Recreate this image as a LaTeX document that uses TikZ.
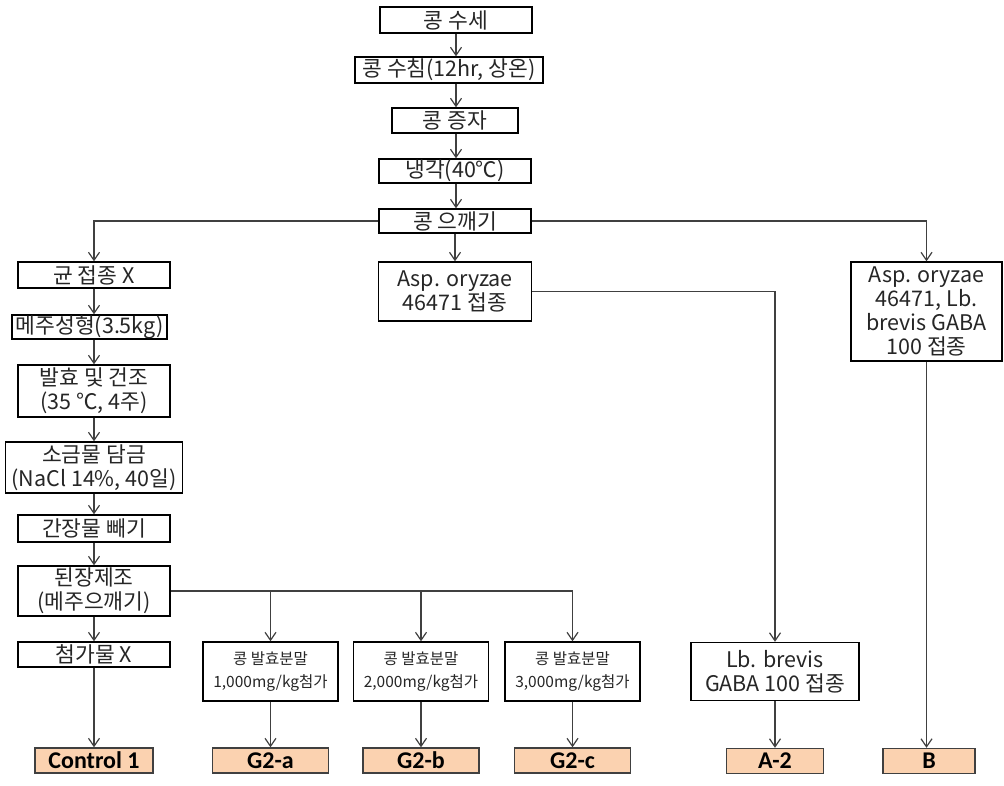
\documentclass[tikz,border=0pt]{standalone}
\usepackage{fontspec}
\setmainfont{Noto Sans CJK KR}
\newfontfamily\labelfont{Carlito}
\usetikzlibrary{positioning,arrows.meta}
\definecolor{peach}{RGB}{251,210,176}
\definecolor{linegray}{RGB}{64,64,64}

\begin{document}
\begin{tikzpicture}[-{Straight Barb[length=8pt,width=11pt]}, on grid,
line width=1.2pt, draw=linegray,
step box/.style ={rectangle, draw=black, line width=1.4pt, fill=white,
inner sep=0pt, align=center, text=black!85,
font=\fontsize{21.5}{24}\selectfont},
add box/.style ={step box, minimum width=135pt, minimum height=59pt,
font=\fontsize{15.5}{23}\selectfont},
group/.style ={rectangle, draw=black!75, line width=1.4pt, fill=peach,
inner sep=0pt, minimum height=25pt, text=black,
font=\labelfont\bfseries\fontsize{24}{24}\selectfont}]
\useasboundingbox (0,0) rectangle (1004pt,-785pt);
% main column
\node[step box, minimum width=152pt, minimum height=26pt] (wash) at (456pt,-20pt) {콩 수세};
\node[step box, minimum width=188pt, minimum height=26pt] (soak) [below left = 50pt and 7pt of wash] {콩 수침(12hr, 상온)};
\node[step box, minimum width=126pt, minimum height=25pt] (steam) [below right = 50.5pt and 6pt of soak] {콩 증자};
\node[step box, minimum width=152pt, minimum height=24pt] (cool) [below = 50.5pt of steam] {냉각(40℃)};
\node[step box, minimum width=152pt, minimum height=24pt] (mash) [below = 50pt of cool] {콩 으깨기};
\node[step box, minimum width=153pt, minimum height=59pt] (asp) [below = 70.5pt of mash] {Asp. oryzae\\46471 접종};
% left column
\node[step box, minimum width=152pt, minimum height=26pt] (noinoc) at (94pt,-275pt) {균 접종 X};
\node[step box, minimum width=155pt, minimum height=24pt] (meju) [below left = 52pt and 4.5pt of noinoc] {메주성형(3.5kg)};
\node[step box, minimum width=152pt, minimum height=52pt] (ferm) [below right = 64pt and 4.5pt of meju] {발효 및 건조\\(35 ℃, 4주)};
\node[step box, minimum width=177pt, minimum height=51pt] (brine) [below = 76.5pt of ferm] {소금물 담금\\(NaCl 14\%, 40일)};
\node[step box, minimum width=152pt, minimum height=27pt] (drain) [below = 61pt of brine] {간장물 빼기};
\node[step box, minimum width=152pt, minimum height=50pt] (doen) [below = 62.5pt of drain] {된장제조\\(메주으깨기)};
\node[step box, minimum width=152pt, minimum height=25pt] (noadd) [below = 63.5pt of doen] {첨가물 X};
\node[group, minimum width=118pt] (ctrl) [below = 106pt of noadd] {Control 1};
% powder additions
\node[add box] (pow1) [below right = 17pt and 176.5pt of noadd] {콩 발효분말\\1,000mg/kg첨가};
\node[add box] (pow2) [right = 150.5pt of pow1] {콩 발효분말\\2,000mg/kg첨가};
\node[add box] (pow3) [right = 151.5pt of pow2] {콩 발효분말\\3,000mg/kg첨가};
\node[group, minimum width=116pt] (g2a) [below = 89pt of pow1] {G2-a};
\node[group, minimum width=116pt] (g2b) [below = 89pt of pow2] {G2-b};
\node[group, minimum width=116pt] (g2c) [below = 89pt of pow3] {G2-c};
% right columns
\node[step box, minimum width=168pt, minimum height=58pt] (lb) [right = 202.5pt of pow3] {Lb. brevis\\GABA 100 접종};
\node[group, minimum width=97pt] (a2) [below = 89.5pt of lb] {A-2};
\node[step box, minimum width=151pt, minimum height=99pt] (both) at (926.5pt,-311.5pt) {Asp. oryzae\\46471, Lb.\\brevis GABA\\100 접종};
\node[group, minimum width=92pt] (bgrp) [right = 154pt of a2] {B};

\path (wash) edge (wash |- soak.north);
\path (wash |- soak.south) edge (wash |- steam.north);
\path (wash |- steam.south) edge (wash |- cool.north);
\path (wash |- cool.south) edge (wash |- mash.north);
\path (mash) edge (asp);
\draw (mash.west) -| (noinoc);
\draw (mash.east) -| (both);
\draw (asp.east) -| (lb);

\path (noinoc) edge (noinoc |- meju.north);
\path (noinoc |- meju.south) edge (ferm);
\path (ferm) edge (brine);
\path (brine) edge (drain);
\path (drain) edge (doen);
\path (doen) edge (noadd);
\path (noadd) edge (ctrl);

\draw[-] (doen.east) -- (doen.east -| pow3);
\path (doen.east -| pow1) edge (pow1);
\path (doen.east -| pow2) edge (pow2);
\path (doen.east -| pow3) edge (pow3);
\path (pow1) edge (g2a);
\path (pow2) edge (g2b);
\path (pow3) edge (g2c);
\path (lb) edge (a2);
\path (both) edge (both |- bgrp.north);
\end{tikzpicture}
\end{document}
